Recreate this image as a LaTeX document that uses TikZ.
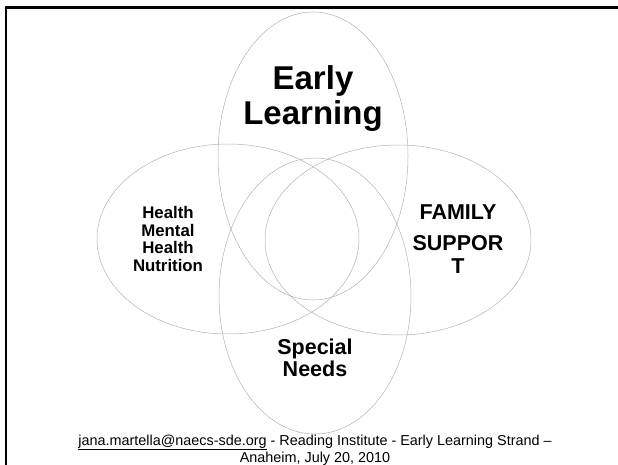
\documentclass[tikz,border=0pt]{standalone}
\usepackage{fontspec}
\setmainfont{Liberation Sans}
\begin{document}
\begin{tikzpicture}[x=1pt,y=-1pt,
  venn/.style={draw=black!30,line width=0.5pt},
  frameline/.style={draw=black,line width=2.4pt},
  lbl/.style={align=center,inner sep=0pt,anchor=center,font=\bfseries}]
\useasboundingbox (0,0) rectangle (618,465);
% frame
\coordinate (fTL) at (6.2,7.5);
\coordinate (fTR) at (618,7.5);
\coordinate (fBL) at (6.2,465);
\draw[frameline] (fTR) -- (fTL) -- (fBL);
% ellipses
\draw[venn] (313,156) ellipse [x radius=95, y radius=144];
\draw[venn] (315,296) ellipse [x radius=96, y radius=138];
\draw[venn] (228,239) ellipse [x radius=131, y radius=95];
\draw[venn] (398,240) ellipse [x radius=133, y radius=95];
% labels
\node[lbl,font=\bfseries\fontsize{33}{35}\selectfont] (early) at (313,98.7) {Early\\Learning};
\node[lbl,font=\bfseries\fontsize{16.8}{17.8}\selectfont] (health) at (168,238.9) {Health\\Mental\\Health\\Nutrition};
\node[lbl,font=\bfseries\fontsize{21.5}{23}\selectfont] (family) at (458,239) {FAMILY\\[8pt]SUPPOR\\T};
\node[lbl,font=\bfseries\fontsize{21.5}{21.7}\selectfont] (special) at (315,357.7) {Special\\Needs};
\node[align=center,inner sep=0pt,font=\fontsize{14.4}{17}\selectfont] (footer) at (315,449.8)
  {\underline{jana.martella@naecs-sde.org} - Reading Institute - Early Learning Strand --\\Anaheim, July 20, 2010};
\end{tikzpicture}
\end{document}
